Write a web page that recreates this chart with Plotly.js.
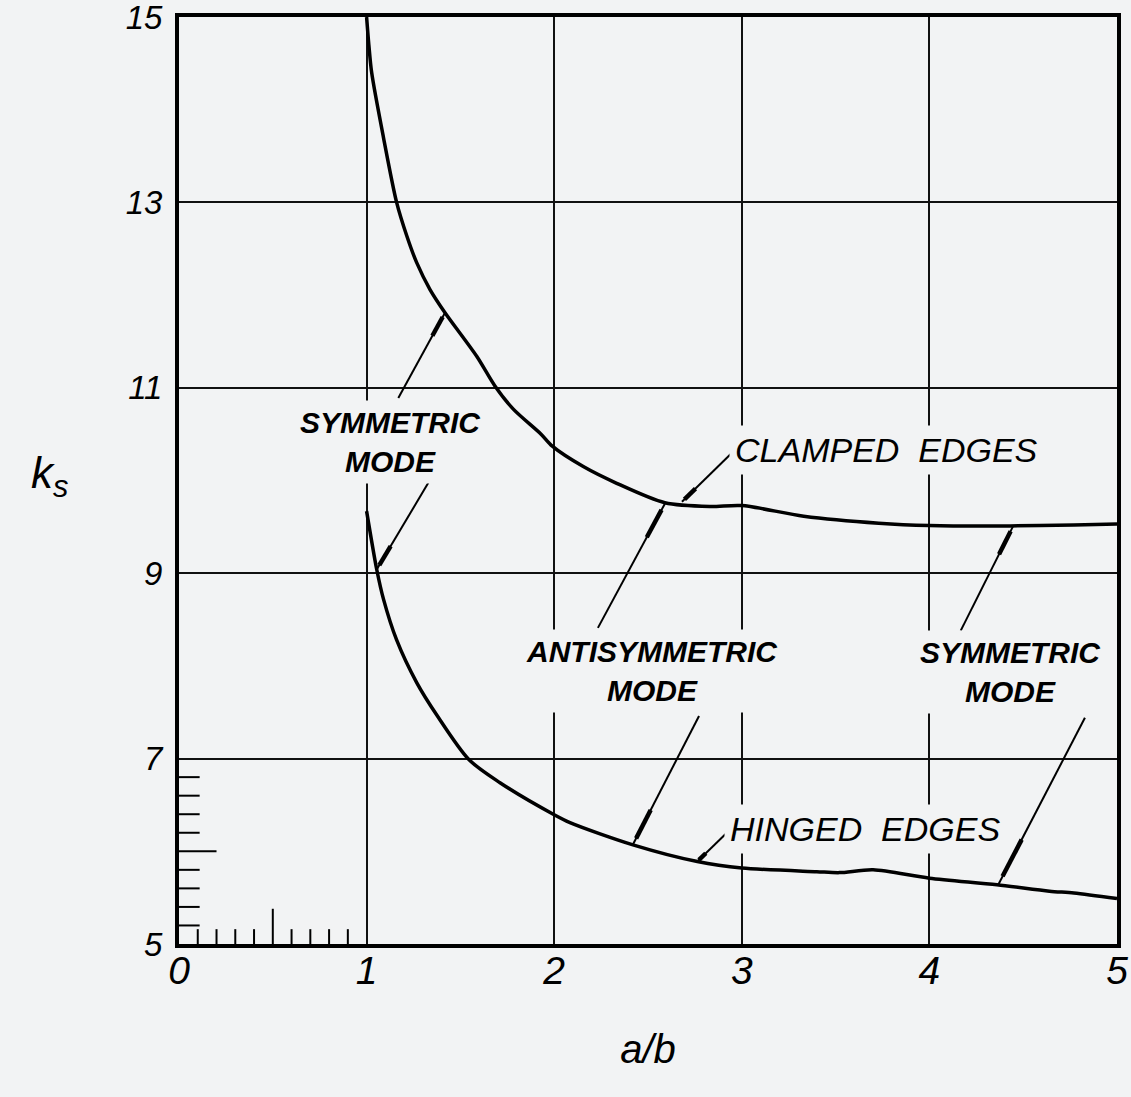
<!DOCTYPE html>
<html>
<head>
<meta charset="utf-8">
<script src="https://cdn.plot.ly/plotly-3.0.1.min.js"></script>
<style>
  html, body { margin: 0; padding: 0; background: #f2f3f4; }
  #chart { width: 1131px; height: 1097px; }
</style>
</head>
<body>
<div id="chart"></div>
<script>
// ---- data ----
const clampedX = [1.0, 1.012, 1.027, 1.089, 1.16, 1.214, 1.267, 1.338, 1.418, 1.587, 1.684, 1.782, 1.93, 1.99, 2.155, 2.333, 2.59, 2.83, 3.0, 3.33, 3.73, 4.0, 4.43, 4.77, 5.0];
const clampedY = [15.0, 14.7, 14.40, 13.71, 13.0, 12.64, 12.35, 12.06, 11.81, 11.34, 11.02, 10.77, 10.50, 10.37, 10.15, 9.97, 9.76, 9.72, 9.73, 9.615, 9.54, 9.515, 9.51, 9.52, 9.53];

const hingedX = [1.0, 1.054, 1.09, 1.16, 1.267, 1.374, 1.545, 1.711, 1.995, 2.084, 2.42, 2.763, 3.0, 3.4, 3.52, 3.70, 4.0, 4.36, 4.64, 4.77, 5.0];
const hingedY = [9.67, 9.04, 8.72, 8.28, 7.82, 7.47, 6.99, 6.74, 6.40, 6.31, 6.07, 5.89, 5.82, 5.78, 5.77, 5.80, 5.71, 5.64, 5.57, 5.55, 5.49];

const xTickVals = [0, 1, 2, 3, 4, 5];
const xTickText = ['0', '1', '2', '3', '4', '5'];
const yTickVals = [5, 7, 9, 11, 13, 15];
const yTickText = ['5', '7', '9', '11', '13', '15'];

// labels: text, position, anchor, weight
const labelText = ['SYMMETRIC<br>MODE', 'ANTISYMMETRIC<br>MODE', 'SYMMETRIC<br>MODE', 'CLAMPED\u00a0\u00a0EDGES', 'HINGED\u00a0\u00a0EDGES'];
const labelX = [1.13, 2.52, 4.43, 2.93, 2.905];
const labelY = [10.42, 7.95, 7.93, 10.33, 6.24];
const labelAnchor = ['center', 'center', 'center', 'left', 'left'];
const labelBold = [true, true, true, false, false];

// leader lines: tail -> tip (tip touches the curve)
const leaderTailX = [1.169, 1.329, 2.948, 2.233, 2.772, 2.93, 4.167, 4.829];
const leaderTailY = [10.89, 9.975, 10.30, 8.41, 7.46, 6.22, 8.38, 7.44];
const leaderTipX  = [1.418, 1.054, 2.681, 2.59, 2.419, 2.763, 4.447, 4.367];
const leaderTipY  = [11.81, 9.04, 9.77, 9.75, 6.07, 5.89, 9.51, 5.64];

// ---- figure ----
const BG = '#f2f3f4';
const FONT = 'Liberation Sans, Arial, sans-serif';

const traces = [
  { x: clampedX, y: clampedY, name: 'Clamped edges', mode: 'lines',
    line: { color: '#000', width: 3.5, shape: 'spline', smoothing: 0.8 }, hoverinfo: 'x+y' },
  { x: hingedX, y: hingedY, name: 'Hinged edges', mode: 'lines',
    line: { color: '#000', width: 3.5, shape: 'spline', smoothing: 0.8 }, hoverinfo: 'x+y' }
];

const annotations = [];
for (let i = 0; i < labelText.length; i++) {
  annotations.push({
    x: labelX[i], y: labelY[i], xref: 'x', yref: 'y',
    text: labelText[i], showarrow: false,
    xanchor: labelAnchor[i], yanchor: 'middle', align: 'center',
    bgcolor: BG, borderpad: 5,
    font: { family: FONT, size: labelBold[i] ? 30 : 34, color: '#000',
            style: 'italic', weight: labelBold[i] ? 'bold' : 'normal' }
  });
}
annotations.push({
  x: -0.138, y: 0.505, xref: 'paper', yref: 'paper',
  text: 'k<sub>s</sub>', showarrow: false, xanchor: 'center', yanchor: 'middle',
  font: { family: FONT, size: 44, color: '#000', style: 'italic' }
});

const shapes = [];
// leader lines with a thickened barb next to the tip
for (let i = 0; i < leaderTipX.length; i++) {
  const dx = leaderTailX[i] - leaderTipX[i], dy = leaderTailY[i] - leaderTipY[i];
  shapes.push({ type: 'line', xref: 'x', yref: 'y',
    x0: leaderTailX[i], y0: leaderTailY[i], x1: leaderTipX[i], y1: leaderTipY[i],
    line: { color: '#000', width: 2 } });
  shapes.push({ type: 'line', xref: 'x', yref: 'y',
    x0: leaderTipX[i] + 0.05 * dx, y0: leaderTipY[i] + 0.05 * dy,
    x1: leaderTipX[i] + 0.27 * dx, y1: leaderTipY[i] + 0.27 * dy,
    line: { color: '#000', width: 4.5 } });
}
// small scale ticks in the lower-left cell
for (let k = 1; k <= 9; k++) {
  shapes.push({ type: 'line', xref: 'x', yref: 'y',
    x0: k / 10, x1: k / 10, y0: 5, y1: k === 5 ? 5.38 : 5.16,
    line: { color: '#000', width: 2 } });
  shapes.push({ type: 'line', xref: 'x', yref: 'y',
    x0: 0, x1: k === 5 ? 0.2 : 0.11, y0: 5 + 0.2 * k, y1: 5 + 0.2 * k,
    line: { color: '#000', width: 2 } });
}

const layout = {
  width: 1131, height: 1097,
  margin: { l: 179, r: 14, t: 17, b: 153 },
  paper_bgcolor: BG, plot_bgcolor: BG,
  showlegend: false,
  font: { family: FONT, color: '#000' },
  xaxis: {
    range: [0, 5], tickvals: xTickVals, ticktext: xTickText,
    showgrid: true, gridcolor: '#111', gridwidth: 2, zeroline: false,
    showline: true, linecolor: '#000', linewidth: 4, mirror: true,
    ticks: '', ticklabelstandoff: -11, ticklabeloverflow: 'allow',
    tickfont: { family: FONT, size: 39, style: 'italic', color: '#000' },
    title: { text: 'a/b', standoff: 45,
             font: { family: FONT, size: 40, style: 'italic', color: '#000' } }
  },
  yaxis: {
    range: [5, 15], tickvals: yTickVals, ticktext: yTickText,
    showgrid: true, gridcolor: '#111', gridwidth: 2, zeroline: false,
    showline: true, linecolor: '#000', linewidth: 4, mirror: true,
    ticks: '', ticklabelstandoff: 6, ticklabeloverflow: 'allow',
    tickfont: { family: FONT, size: 33, style: 'italic', color: '#000' }
  },
  annotations: annotations,
  shapes: shapes
};

Plotly.newPlot('chart', traces, layout, { displayModeBar: false, staticPlot: true });
</script>
</body>
</html>
